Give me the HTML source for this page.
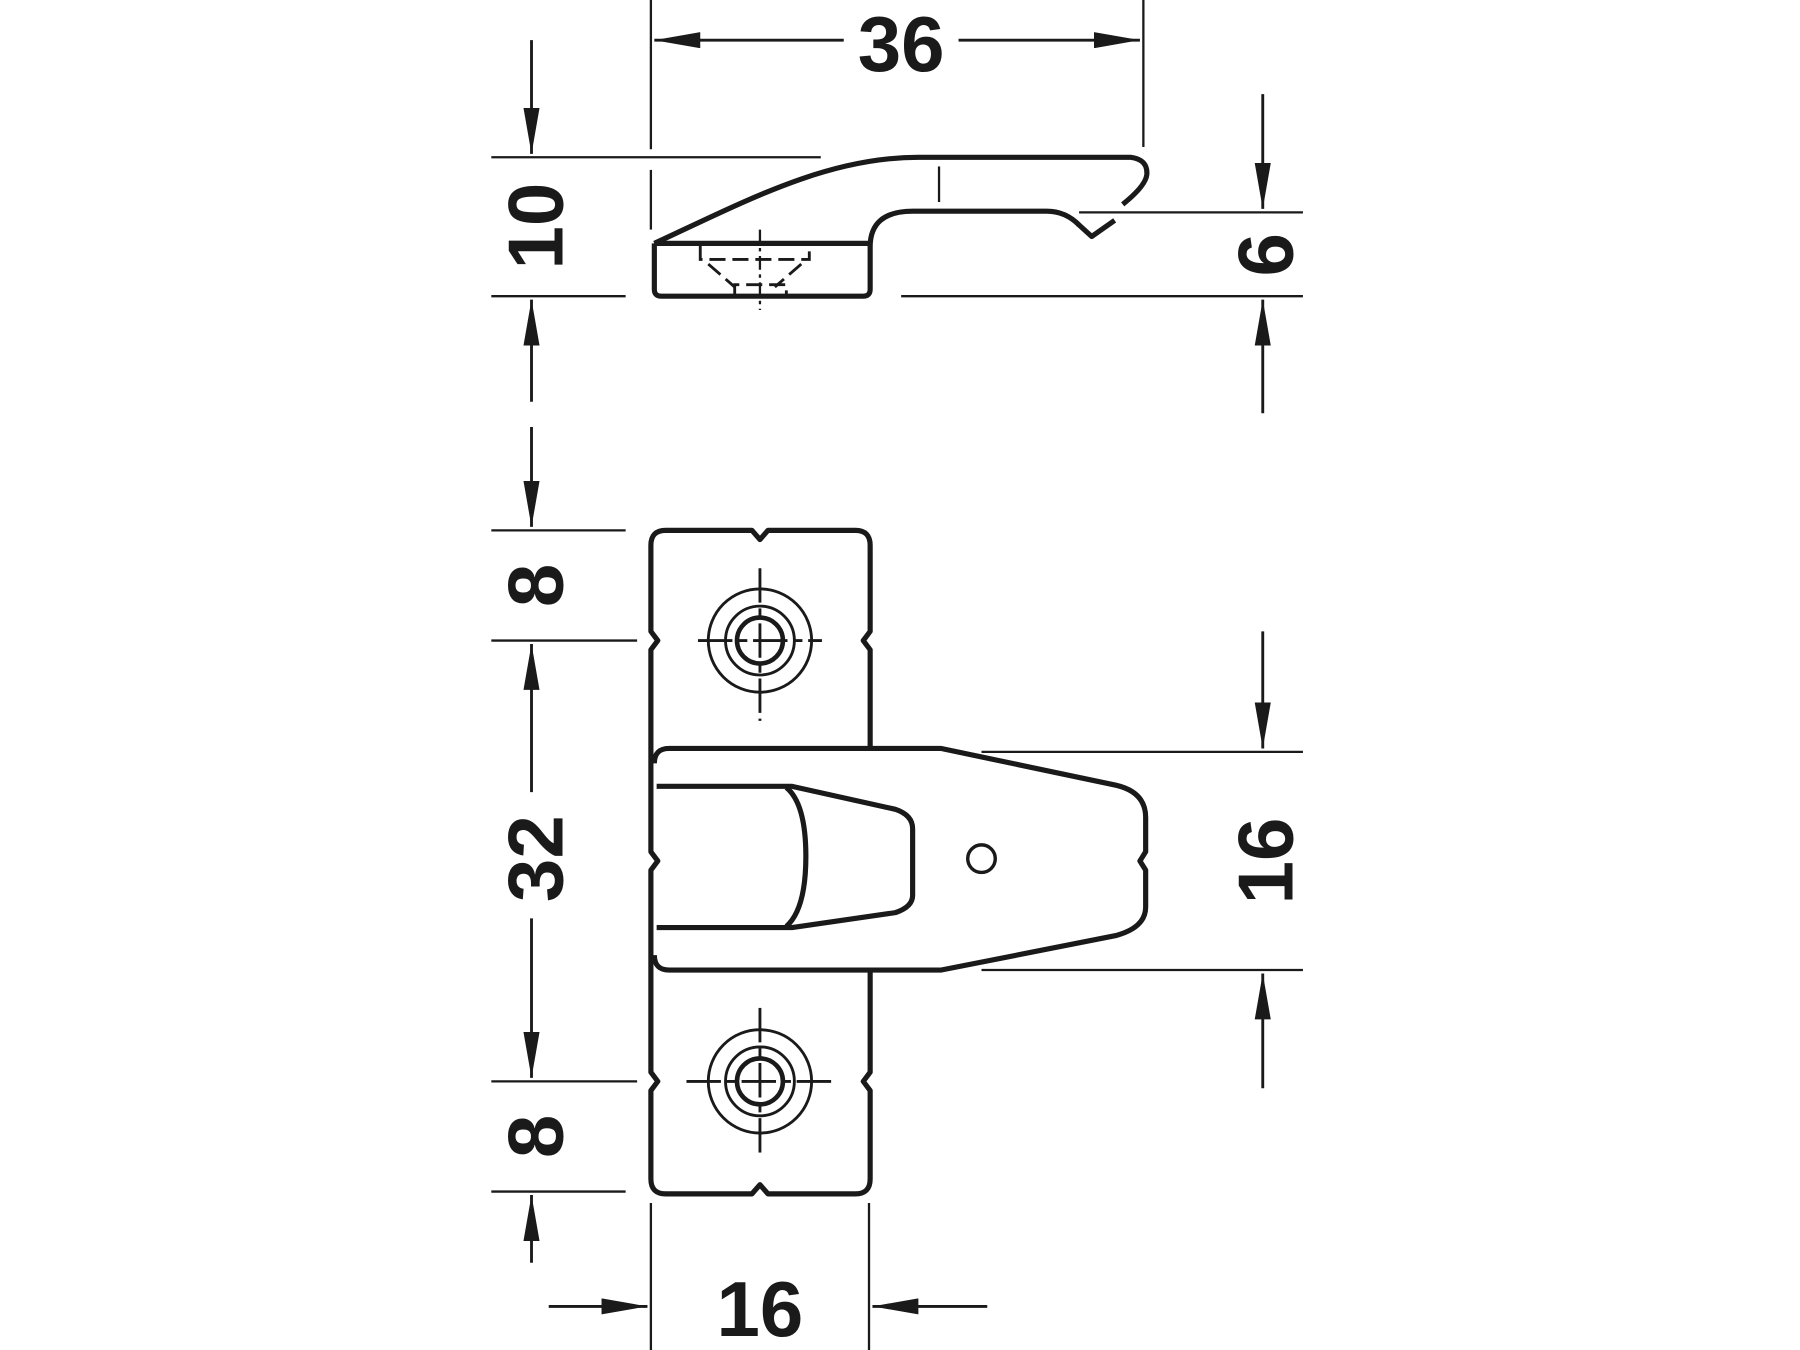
<!DOCTYPE html>
<html><head><meta charset="utf-8"><style>
html,body{margin:0;padding:0;background:#fff;}
svg{display:block;}
text{font-family:"Liberation Sans",sans-serif;font-size:68px;font-weight:bold;fill:#1a1a1a;}
</style></head><body>
<svg width="1800" height="1350" viewBox="0 0 1568 1176" xmlns="http://www.w3.org/2000/svg">
<defs>
<marker id="a" viewBox="0 0 40 14" refX="40" refY="7" markerWidth="40" markerHeight="14" markerUnits="userSpaceOnUse" orient="auto"><path d="M0,0 L40,7 L0,14 Z" fill="#1a1a1a"/></marker>
</defs>
<g stroke="#1a1a1a" fill="none" stroke-width="2">
<!-- 36 dim -->
<line x1="567" y1="0" x2="567" y2="130"/>
<line x1="567" y1="148" x2="567" y2="200"/>
<line x1="996" y1="0" x2="996" y2="128"/>
<line x1="735" y1="35" x2="570" y2="35" marker-end="url(#a)" stroke-width="2.5"/>
<line x1="835" y1="35" x2="993" y2="35" marker-end="url(#a)" stroke-width="2.5"/>
<!-- 10 dim -->
<line x1="428" y1="137" x2="715" y2="137"/>
<line x1="428" y1="258" x2="545" y2="258"/>
<line x1="463" y1="35" x2="463" y2="134" marker-end="url(#a)" stroke-width="2.5"/>
<line x1="463" y1="350" x2="463" y2="261" marker-end="url(#a)" stroke-width="2.5" stroke-dasharray="60 8 4 8"/>
<!-- 6 dim -->
<line x1="940" y1="185" x2="1135" y2="185"/>
<line x1="785" y1="258" x2="1135" y2="258"/>
<line x1="1100" y1="82" x2="1100" y2="182" marker-end="url(#a)" stroke-width="2.5"/>
<line x1="1100" y1="360" x2="1100" y2="261" marker-end="url(#a)" stroke-width="2.5"/>
<line x1="818" y1="145" x2="818" y2="176"/>
<!-- profile -->
<g stroke-width="4.5" stroke-linejoin="round">
<path d="M570,212 C650,175 720,137 800,137 L985,137 Q1000,139 999,152 Q998,162 978,178"/>
<path d="M570,212 L570,252 Q570,258 576,258 L752,258 Q758,258 758,252 L758,215 Q758,184 795,184 L912,184 Q928,184 940,196 L951,206 L971,192"/>
<line x1="570" y1="212" x2="758" y2="212"/>
</g>
<g stroke-width="2.5" stroke-dasharray="14 6">
<path d="M610,214 L610,226 L705,226 L705,214"/>
<line x1="617" y1="230" x2="640" y2="250"/>
<line x1="698" y1="230" x2="675" y2="250"/>
<path d="M640,258 L640,248 L685,248 L685,258"/>
</g>
<line x1="662" y1="200" x2="662" y2="270" stroke-dasharray="12 4 3 4"/>
<!-- 8/32/8 dims -->
<line x1="428" y1="462" x2="545" y2="462"/>
<line x1="428" y1="558" x2="555" y2="558"/>
<line x1="428" y1="942" x2="555" y2="942"/>
<line x1="428" y1="1038" x2="545" y2="1038"/>
<line x1="463" y1="372" x2="463" y2="459" marker-end="url(#a)" stroke-width="2.5"/>
<line x1="463" y1="690" x2="463" y2="561" marker-end="url(#a)" stroke-width="2.5"/>
<line x1="463" y1="800" x2="463" y2="939" marker-end="url(#a)" stroke-width="2.5"/>
<line x1="463" y1="1100" x2="463" y2="1041" marker-end="url(#a)" stroke-width="2.5"/>
<!-- right 16 -->
<line x1="855" y1="655" x2="1135" y2="655"/>
<line x1="855" y1="845" x2="1135" y2="845"/>
<line x1="1100" y1="550" x2="1100" y2="652" marker-end="url(#a)" stroke-width="2.5"/>
<line x1="1100" y1="948" x2="1100" y2="848" marker-end="url(#a)" stroke-width="2.5"/>
<!-- bottom 16 -->
<line x1="567" y1="1048" x2="567" y2="1176"/>
<line x1="757" y1="1048" x2="757" y2="1176"/>
<line x1="478" y1="1138" x2="564" y2="1138" marker-end="url(#a)" stroke-width="2.5"/>
<line x1="860" y1="1138" x2="760" y2="1138" marker-end="url(#a)" stroke-width="2.5"/>
<!-- plate -->
<g stroke-width="4.5" stroke-linejoin="round">
<path d="M758,652 L758,566 L752,558 L758,550 L758,475 Q758,462 745,462 L669,462 L662,470 L655,462 L580,462 Q567,462 567,475 L567,550 L573,558 L567,566 L567,742 L573,750 L567,758 L567,934 L573,942 L567,950 L567,1027 Q567,1040 580,1040 L655,1040 L662,1032 L669,1040 L745,1040 Q758,1040 758,1027 L758,950 L752,942 L758,934 L758,845"/>
<path d="M570,665 Q570,652 583,652 L820,652 L972,684 Q998,690 998,712 L998,742 L993,750 L998,758 L998,790 Q998,808 972,815 L820,845 L583,845 Q570,845 570,832"/>
<path d="M572,685 L690,685 L780,705 Q795,710 795,722 L795,780 Q795,790 780,795 L690,808 L572,808"/>
<path d="M685,686 Q702,700 702,746 Q702,792 685,807"/>
<circle cx="855" cy="748" r="12" stroke-width="3"/>
</g>
<g stroke-width="2.5">
<circle cx="662" cy="558" r="45"/><circle cx="662" cy="558" r="30"/>
<circle cx="662" cy="942" r="45"/><circle cx="662" cy="942" r="30"/>
</g>
<g stroke-width="4">
<circle cx="662" cy="558" r="20"/><circle cx="662" cy="942" r="20"/>
</g>
<g stroke-width="2.5">
<line x1="608" y1="558" x2="716" y2="558" stroke-dasharray="30 5 8 5"/>
<line x1="662" y1="495" x2="662" y2="628" stroke-dasharray="30 5 8 5"/>
<line x1="598" y1="942" x2="726" y2="942" stroke-dasharray="30 5 8 5"/>
<line x1="662" y1="878" x2="662" y2="1005" stroke-dasharray="30 5 8 5"/>
</g>
</g>
<text x="785" y="62" text-anchor="middle">36</text>
<text x="662" y="1164" text-anchor="middle">16</text>
<text transform="translate(490,197) rotate(-90)" text-anchor="middle">10</text>
<text transform="translate(1126,222) rotate(-90)" text-anchor="middle">6</text>
<text transform="translate(490,510) rotate(-90)" text-anchor="middle">8</text>
<text transform="translate(490,748) rotate(-90)" text-anchor="middle">32</text>
<text transform="translate(490,990) rotate(-90)" text-anchor="middle">8</text>
<text transform="translate(1126,750) rotate(-90)" text-anchor="middle">16</text>
</svg>
</body></html>
